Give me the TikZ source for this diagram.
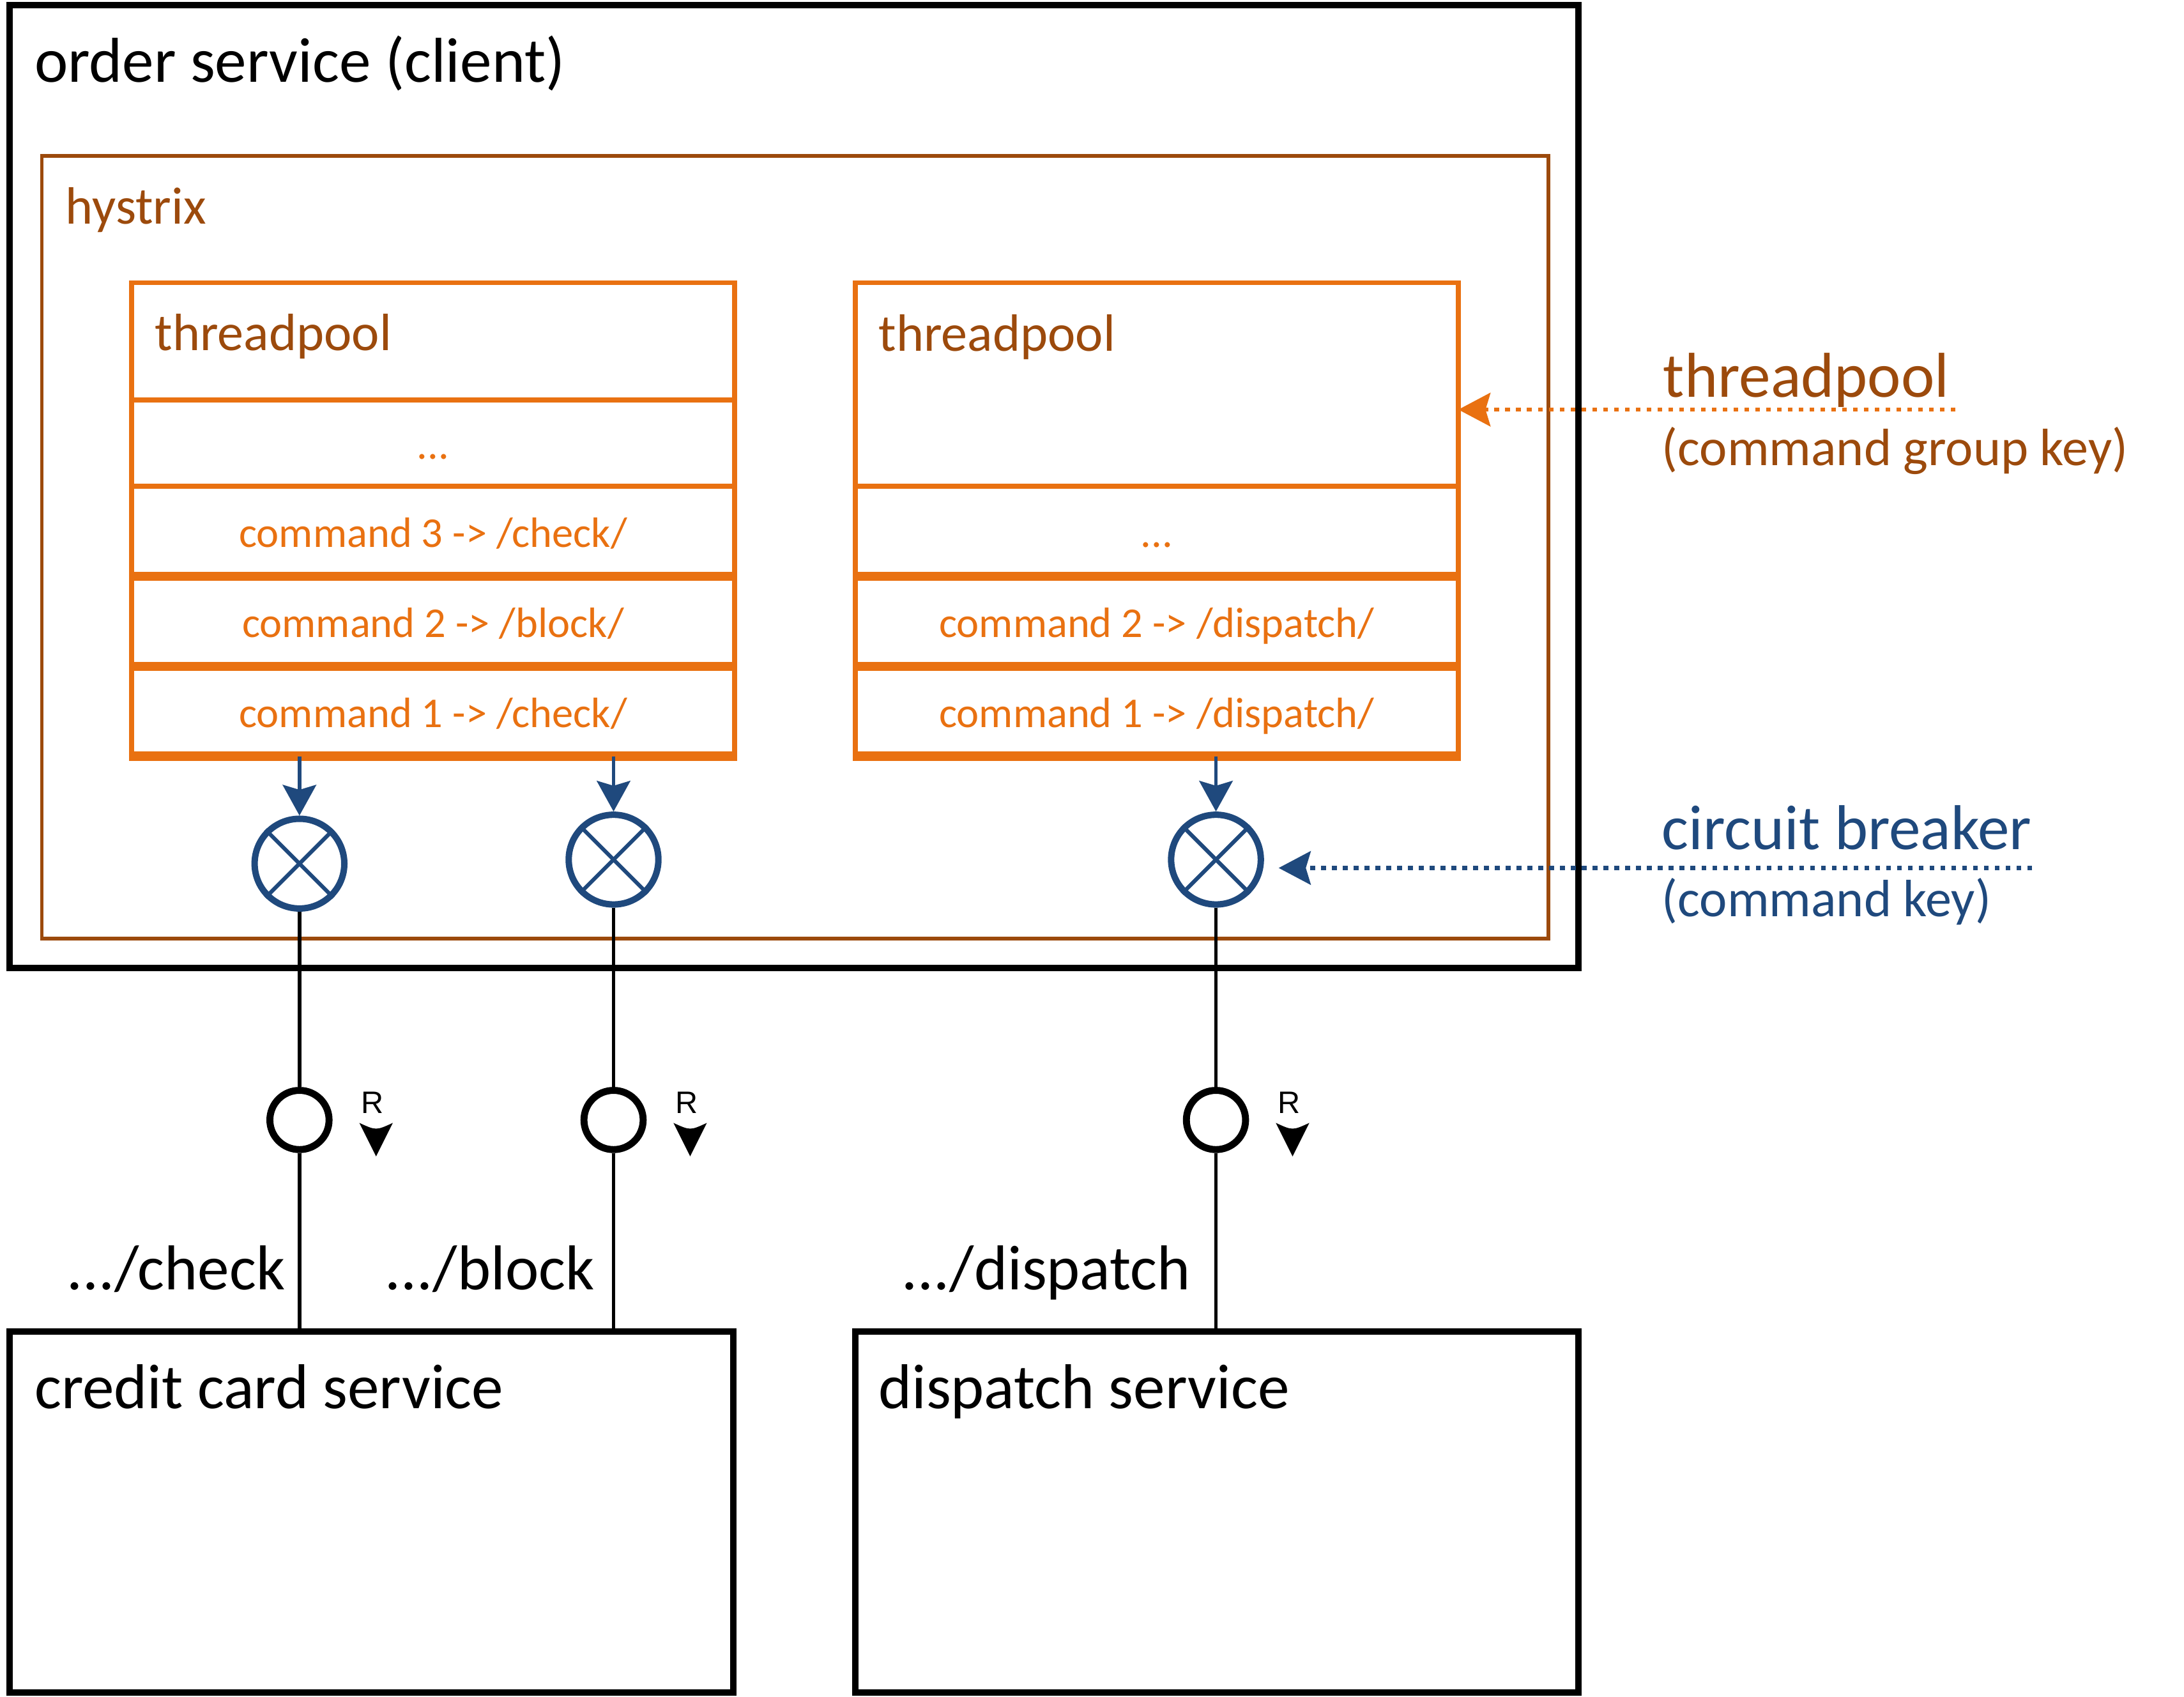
\documentclass[tikz,border=0pt]{standalone}
\usepackage{fontspec}
\setmainfont{Carlito}
\newfontfamily\rfont{Liberation Sans}
\usetikzlibrary{arrows.meta,positioning}
\definecolor{hxbrown}{HTML}{9C4A0C}
\definecolor{tporange}{HTML}{E97111}
\definecolor{cbblue}{HTML}{1F497D}
\newcommand{\bigtxt}{\fontsize{45.5pt}{54pt}\selectfont}
\newcommand{\midtxt}{\fontsize{37.7pt}{45pt}\selectfont}
\newcommand{\smalltxt}{\fontsize{30.5pt}{36pt}\selectfont}
\newcommand{\rtxt}{\rfont\fontsize{22.3pt}{26pt}\selectfont}
\tikzset{
  box/.style={draw, rectangle, inner sep=0pt, outer sep=0pt},
  servicebox/.style={box, line width=4.6pt},
  hystrixbox/.style={box, draw=hxbrown, line width=2.6pt},
  tprow/.style={box, draw=tporange, line width=3.5pt, minimum width=433pt,
    text=tporange, font=\smalltxt, text height=23pt, text depth=0pt},
  cmdrule/.style={draw=tporange, line width=6.5pt, shorten <=-1.75pt, shorten >=-1.75pt},
  cbreak/.style={circle, draw=cbblue, line width=4.6pt, minimum size=64.4pt,
    inner sep=0pt, outer sep=2.3pt, fill=white},
  cbcross/.style={draw=cbblue, line width=2.8pt},
  cbarrow/.style={draw=cbblue, line width=2.6pt, -{Stealth[length=22pt,width=24pt,inset=3.5pt]}},
  iface/.style={circle, draw, line width=5pt, minimum size=42.5pt,
    inner sep=0pt, outer sep=2.5pt, fill=white},
  wire/.style={draw, line width=2.6pt},
  rlabel/.style={font=\rtxt, inner sep=0pt},
  title/.style={anchor=base west, inner sep=0pt, font=\bigtxt},
  subtitle/.style={anchor=base west, inner sep=0pt, font=\midtxt},
  note/.style={line width=3pt, dash pattern=on 3.5pt off 4.3pt,
    -{Stealth[length=23pt,width=24pt,inset=3.5pt]}},
}

\begin{document}
\begin{tikzpicture}[x=1pt,y=-1pt]
  \useasboundingbox (0,0) rectangle (1568,1218);

  % order service and hystrix
  \node[servicebox, minimum width=1126pt, minimum height=691.3pt] (order) at (570,349.35) {};
  \node[title] (ordertxt) at (24.6,59) {order service (client)};
  \node[hystrixbox, minimum width=1081.7pt, minimum height=561.7pt] (hystrix) at (570.85,392.85) {};
  \node[subtitle, text=hxbrown] (hystrixtxt) at (47,160.6) {hystrix};

  % left threadpool
  \node[tprow, minimum height=84pt] (lhead) at (311,245) {};
  \node[tprow, minimum height=62pt, below=0pt of lhead] (ldots) {...};
  \node[tprow, minimum height=64.6pt, below=0pt of ldots] (l3) {command 3 -> /check/};
  \node[tprow, minimum height=64.6pt, below=0pt of l3] (l2) {command 2 -> /block/};
  \node[tprow, minimum height=64.6pt, below=0pt of l2] (l1) {command 1 -> /check/};
  \node[subtitle, text=hxbrown] (ltp) at (111,251.5) {threadpool};

  % right threadpool
  \node[tprow, minimum height=146pt] (rhead) at (830.5,276) {};
  \node[tprow, minimum height=64.6pt, below=0pt of rhead] (r0) {...};
  \node[tprow, minimum height=64.6pt, below=0pt of r0] (r2) {command 2 -> /dispatch/};
  \node[tprow, minimum height=64.6pt, below=0pt of r2] (r1) {command 1 -> /dispatch/};
  \node[subtitle, text=hxbrown] (rtp) at (630.6,251.8) {threadpool};

  \foreach \n in {l3,l2,l1,r0,r2,r1}
    \draw[cmdrule] (\n.south west) -- (\n.south east);

  % circuit breakers
  \node[cbreak] (cb1) at (215,619.9) {};
  \node[cbreak] (cb2) at (440.5,617) {};
  \node[cbreak] (cb3) at (873,617) {};
  \foreach \c in {cb1,cb2,cb3} {
    \draw[cbcross] (\c.45) -- (\c.225);
    \draw[cbcross] (\c.135) -- (\c.315);
  }
  \draw[cbarrow] (l1.south -| cb1) -- (cb1);
  \draw[cbarrow] (l1.south -| cb2) -- (cb2);
  \draw[cbarrow] (r1.south -| cb3) -- (cb3);

  % called services
  \node[servicebox, minimum width=519.5pt, minimum height=259.4pt] (cc) at (266.75,1085.3) {};
  \node[title] (cctxt) at (24.6,1011) {credit card service};
  \node[servicebox, minimum width=519pt, minimum height=259.4pt] (ds) at (873.5,1085.3) {};
  \node[title] (dstxt) at (630.5,1011) {dispatch service};

  % interfaces
  \node[iface] (rc1) at (215,803.9) {};
  \node[iface] (rc2) at (440.5,803.9) {};
  \node[iface] (rc3) at (873,803.9) {};
  \draw[wire] (cb1) -- (rc1);
  \draw[wire] (cb2) -- (rc2);
  \draw[wire] (cb3) -- (rc3);
  \draw[wire] (rc1) -- (rc1 |- cc.north);
  \draw[wire] (rc2) -- (rc2 |- cc.north);
  \draw[wire] (rc3) -- (rc3 |- ds.north);
  \foreach \x/\n in {215/1,440.5/2,873/3} {
    \node[rlabel] (R\n) at (\x+52.5,791.6) {R};
    \fill (\x+43,806) .. controls (\x+55,811.5) .. (\x+67,806) -- (\x+55,830) -- cycle;
  }
  \node[title, anchor=base east] (pcheck) at (205,925.8) {.../check};
  \node[title, anchor=base east] (pblock) at (427,925.8) {.../block};
  \node[title, anchor=base east] (pdispatch) at (855,925.8) {.../dispatch};

  % notes
  \coordinate (tpkey) at (1404,294);
  \coordinate (cbkey) at (1459,623);
  \draw[note, tporange] (tpkey) -- (tpkey -| rhead.east);
  \draw[note, cbblue, shorten >=10.5pt] (cbkey) -- (cbkey -| cb3.east);
  \node[title, text=hxbrown] (tpname) at (1194,285) {threadpool};
  \node[subtitle, text=hxbrown] (tpsub) at (1193,334) {(command group key)};
  \node[title, text=cbblue] (cbname) at (1193,609.5) {circuit breaker};
  \node[subtitle, text=cbblue] (cbsub) at (1193,658) {(command key)};
\end{tikzpicture}
\end{document}
